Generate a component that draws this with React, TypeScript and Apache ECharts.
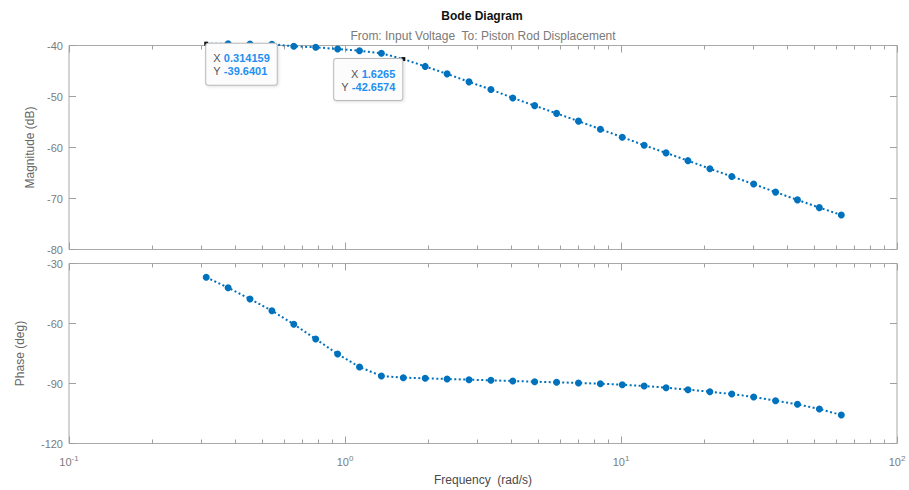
import React, { useEffect, useRef } from "react";
import * as echarts from "echarts";

// Frequencies (rad/s) of the plotted samples
const freq = [
  0.314159, 0.37713, 0.452723, 0.543467, 0.6524, 0.783164, 0.94014, 1.12858,
  1.35479, 1.6265, 1.952335, 2.343664, 2.813427, 3.37735, 4.054303, 4.866945,
  5.842479, 7.013547, 8.419343, 10.106928, 12.132779, 14.564694, 17.484068,
  20.988587, 25.195541, 30.245744, 36.308219, 43.585854, 52.322226, 62.831853,
];

// Magnitude (dB)
const magDb = [
  -39.64, -39.68, -39.7, -39.76, -40.15, -40.35, -40.69, -41.02, -41.53,
  -42.66, -44.1, -45.56, -47.13, -48.63, -50.29, -51.79, -53.31, -54.83,
  -56.41, -57.98, -59.56, -61.06, -62.58, -64.16, -65.68, -67.17, -68.75,
  -70.27, -71.79, -73.23,
];

// Phase (deg)
const phaseDeg = [
  -36.9, -42.1, -47.75, -53.6, -60.4, -67.75, -75.25, -81.75, -86.25, -87.1,
  -87.4, -87.75, -88.1, -88.4, -88.75, -89.1, -89.4, -89.75, -90.1, -90.6,
  -91.25, -92.1, -93.1, -94.1, -95.25, -96.75, -98.6, -100.4, -102.75, -105.75,
];

// Data tips
const tipFreq = [0.314159, 1.6265];
const tipMag = [-39.6401, -42.6574];

// Log-axis minor tick values
const minorFreqs = [
  0.2, 0.3, 0.4, 0.5, 0.6, 0.7, 0.8, 0.9, 2, 3, 4, 5, 6, 7, 8, 9, 20, 30, 40,
  50, 60, 70, 80, 90,
];

const FONT = "'Liberation Sans', Arial, Helvetica, sans-serif";
const BLUE = "#0072BD";
const FRAME = "#a9a9a9";
const TICK = "#a0a0a0";
const LABEL = "#7c7c7c";

const tipIndexOf = (f: number) =>
  tipFreq.findIndex((t) => Math.abs(f - t) / t < 2e-3);

const minorTickRender = (len: number) => (params: any, api: any) => {
  const cs = params.coordSys;
  const x = Math.round(api.coord([api.value(0), api.value(1)])[0]) + 0.5;
  const top = cs.y;
  const bot = cs.y + cs.height;
  const style = { stroke: TICK, lineWidth: 1 };
  return {
    type: "group",
    children: [
      { type: "line", shape: { x1: x, y1: bot, x2: x, y2: bot - len }, style },
      { type: "line", shape: { x1: x, y1: top, x2: x, y2: top + len }, style },
    ],
  };
};

const tipLabelStyle = {
  show: true,
  verticalAlign: "top",
  backgroundColor: "#fcfcfc",
  borderColor: "#b9b9b9",
  borderWidth: 1,
  borderRadius: 2,
  padding: [8, 7, 7, 7],
  shadowBlur: 3,
  shadowColor: "rgba(0,0,0,0.12)",
  shadowOffsetX: 1,
  shadowOffsetY: 1,
  rich: {
    k: { fontSize: 11, color: "#555", fontFamily: FONT, lineHeight: 13 },
    v: {
      fontSize: 11,
      fontWeight: "bold",
      color: "#1f8ff0",
      fontFamily: FONT,
      lineHeight: 13,
    },
  },
};

export default function App() {
  const ref = useRef<HTMLDivElement>(null);

  useEffect(() => {
    if (!ref.current) return;
    const chart = echarts.init(ref.current, undefined, { renderer: "svg" });

    const gridL = 69;
    const gridW = 828;

    const xBase = (gridIndex: number, showLabel: boolean, position: string) => ({
      type: "log",
      logBase: 10,
      min: 0.1,
      max: 100,
      gridIndex,
      position,
      axisLine: { show: false },
      axisTick: {
        show: true,
        inside: true,
        length: 7,
        lineStyle: { color: TICK, width: 1 },
      },
      splitLine: { show: false },
      axisLabel: {
        show: showLabel,
        margin: 11,
        formatter: (v: number) => `{b|10}{s|${Math.round(Math.log10(v))}}`,
        rich: {
          b: { fontSize: 11, color: LABEL, fontFamily: FONT },
          s: {
            fontSize: 8,
            color: LABEL,
            fontFamily: FONT,
            padding: [0, 0, 7, 0],
          },
        },
      },
    });

    const yBase = (
      gridIndex: number,
      min: number,
      max: number,
      interval: number,
      position: string,
      showLabel: boolean
    ) => ({
      type: "value",
      gridIndex,
      min,
      max,
      interval,
      position,
      axisLine: { show: false },
      axisTick: {
        show: true,
        inside: true,
        length: 7,
        lineStyle: { color: TICK, width: 1 },
      },
      splitLine: { show: false },
      axisLabel: {
        show: showLabel,
        margin: 6,
        fontSize: 11,
        color: LABEL,
        fontFamily: FONT,
      },
    });

    const magData = freq.map((f, i) => {
      const t = tipIndexOf(f);
      if (t < 0) return [f, magDb[i]];
      return {
        value: [f, magDb[i]],
        symbol: "rect",
        symbolSize: 4,
        itemStyle: { color: "#111" },
        label: {
          ...tipLabelStyle,
          formatter: `{k|X} {v|${tipFreq[t]}}\n{k|Y} {v|${tipMag[t]}}`,
          position: t === 0 ? [2, 2] : [1, 2],
          align: t === 0 ? "left" : "right",
        },
        z: 10,
      };
    });
    const phaseData = freq.map((f, i) => [f, phaseDeg[i]]);

    const option: any = {
      animation: false,
      backgroundColor: "#ffffff",
      textStyle: { fontFamily: FONT },
      graphic: [
        {
          type: "text",
          x: 482,
          y: 16,
          style: {
            text: "Bode Diagram",
            fontSize: 12,
            fontWeight: "bold",
            fill: "#111",
            fontFamily: FONT,
            textAlign: "center",
            textVerticalAlign: "middle",
          },
        },
        {
          type: "text",
          x: 483,
          y: 36,
          style: {
            text: "From: Input Voltage  To: Piston Rod Displacement",
            fontSize: 12,
            fill: "#7a7a7a",
            fontFamily: FONT,
            textAlign: "center",
            textVerticalAlign: "middle",
          },
        },
      ],
      grid: [
        {
          left: gridL,
          top: 45.5,
          width: gridW,
          height: 204,
          show: true,
          borderColor: FRAME,
          borderWidth: 1,
          containLabel: false,
          outerBoundsMode: "none",
        },
        {
          left: gridL,
          top: 263.5,
          width: gridW,
          height: 180,
          show: true,
          borderColor: FRAME,
          borderWidth: 1,
          containLabel: false,
          outerBoundsMode: "none",
        },
      ],
      xAxis: [
        xBase(0, false, "bottom"),
        xBase(0, false, "top"),
        {
          ...xBase(1, true, "bottom"),
          name: "Frequency  (rad/s)",
          nameLocation: "middle",
          nameGap: 30,
          nameTextStyle: { fontSize: 12, color: "#4a4a4a", fontFamily: FONT },
        },
        xBase(1, false, "top"),
      ],
      yAxis: [
        {
          ...yBase(0, -80, -40, 10, "left", true),
          name: "Magnitude (dB)",
          nameLocation: "middle",
          nameGap: 33,
          nameTextStyle: { fontSize: 12, color: "#666", fontFamily: FONT },
        },
        yBase(0, -80, -40, 10, "right", false),
        {
          ...yBase(1, -120, -30, 30, "left", true),
          name: "Phase (deg)",
          nameLocation: "middle",
          nameGap: 43,
          nameTextStyle: { fontSize: 12, color: "#666", fontFamily: FONT },
        },
        yBase(1, -120, -30, 30, "right", false),
      ],
      series: [
        {
          type: "custom",
          xAxisIndex: 0,
          yAxisIndex: 0,
          silent: true,
          renderItem: minorTickRender(4),
          data: minorFreqs.map((f) => [f, -60]),
          z: 1,
        },
        {
          type: "custom",
          xAxisIndex: 2,
          yAxisIndex: 2,
          silent: true,
          renderItem: minorTickRender(4),
          data: minorFreqs.map((f) => [f, -90]),
          z: 1,
        },
        {
          type: "line",
          name: "Magnitude",
          xAxisIndex: 0,
          yAxisIndex: 0,
          data: magData,
          clip: false,
          symbol: "circle",
          symbolSize: 7,
          itemStyle: { color: BLUE },
          lineStyle: { color: BLUE, width: 2, type: [2, 2.5] },
          z: 3,
        },
        {
          type: "line",
          name: "Phase",
          xAxisIndex: 2,
          yAxisIndex: 2,
          data: phaseData,
          clip: false,
          symbol: "circle",
          symbolSize: 7,
          itemStyle: { color: BLUE },
          lineStyle: { color: BLUE, width: 2, type: [2, 2.5] },
          z: 3,
        },
      ],
    };

    chart.setOption(option);
    return () => chart.dispose();
  }, []);

  return (
    <div
      ref={ref}
      style={{ position: "absolute", left: 0, top: 0, width: 909, height: 490 }}
    />
  );
}
